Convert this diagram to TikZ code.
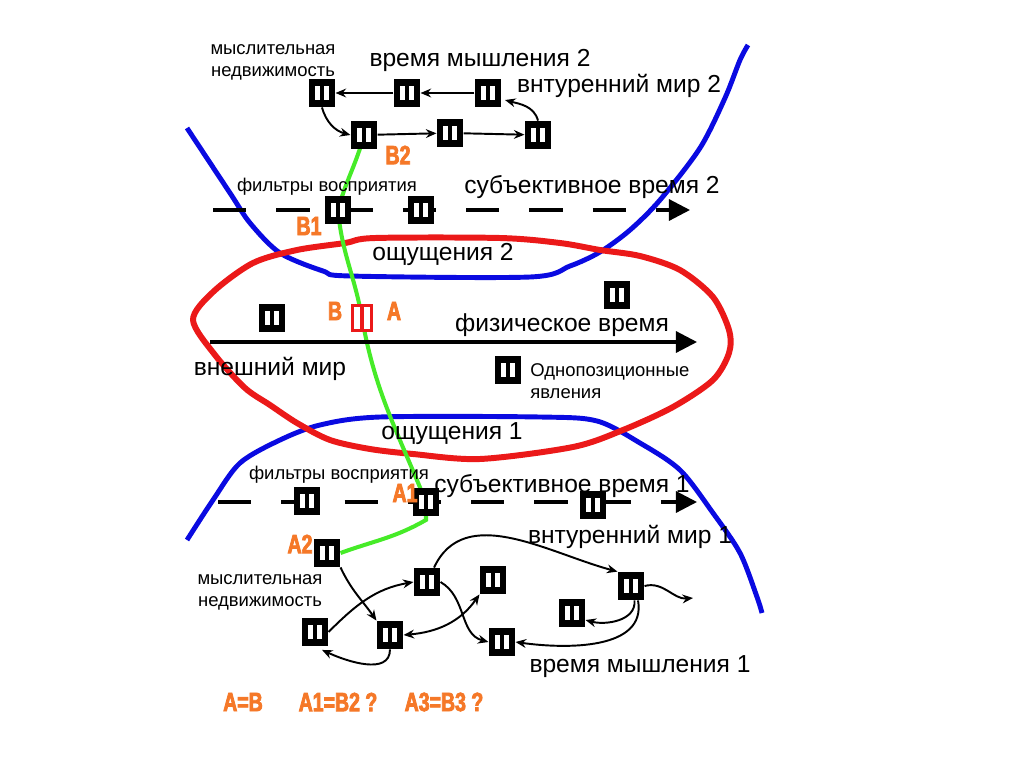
\documentclass[tikz,border=0pt]{standalone}
\usepackage{fontspec}
\setmainfont{Liberation Sans}
\newfontfamily\narrowfont{Liberation Sans Bold}[FakeStretch=0.74,FakeBold=3]
\usepackage{xcolor}
\usetikzlibrary{arrows.meta,backgrounds}

\definecolor{bluewall}{RGB}{10,10,225}
\definecolor{redwall}{RGB}{235,25,25}
\definecolor{greenpath}{RGB}{70,235,40}
\definecolor{orangetag}{RGB}{245,120,40}

\begin{document}
\begin{tikzpicture}[
  x=0.02cm, y=-0.02cm,
  ev/.style={fill=black, minimum width=15pt, minimum height=16pt, inner sep=0pt,
    path picture={
      \fill[white] ([xshift=-3.9pt,yshift=-3.8pt]path picture bounding box.center) rectangle ++(2.7pt,7.6pt);
      \fill[white] ([xshift=1.2pt,yshift=-3.8pt]path picture bounding box.center) rectangle ++(2.7pt,7.6pt);
    }},
  redev/.style={draw=redwall, line width=1.8pt, fill=white, minimum width=11pt,
    minimum height=14.5pt, inner sep=0pt,
    path picture={\draw[redwall, line width=1.8pt] (path picture bounding box.north) -- (path picture bounding box.south);}},
  lbl/.style={font=\fontsize{14}{16}\selectfont, inner sep=0pt},
  sml/.style={font=\fontsize{10.5}{12.5}\selectfont, align=center, inner sep=0pt},
  tag/.style={text=orangetag, font=\narrowfont\fontsize{15}{17}\selectfont, inner sep=0pt},
  conn/.style={-{Stealth[length=6pt,width=5pt]}, line width=1.1pt},
  biconn/.style={{Stealth[length=6pt,width=5pt]}-{Stealth[length=6pt,width=5pt]}, line width=1.1pt},
  axis/.style={line width=1.8pt, -{Triangle[length=12pt,width=12pt]}},
  dashaxis/.style={axis, dash pattern=on 19pt off 17pt},
  bline/.style={draw=bluewall, line width=2.8pt, line join=round},
  rline/.style={draw=redwall, line width=3.4pt, line join=round},
  gline/.style={draw=greenpath, line width=2.3pt}
]
  \useasboundingbox (0,0) rectangle (1024,767);

  % time axes
  \coordinate (s2from) at (213,210);
  \coordinate (s2to) at (690,210);
  \coordinate (phfrom) at (210,342);
  \coordinate (phto) at (697,342);
  \coordinate (s1from) at (218,502);
  \coordinate (s1to) at (697,502);
  \draw[dashaxis] (s2from) -- (s2to);
  \draw[axis] (phfrom) -- (phto);
  \draw[dashaxis] (s1from) -- (s1to);

  % inner world 2
  \node[ev] (m2a) at (322,93) {};
  \node[ev] (m2b) at (407,93) {};
  \node[ev] (m2c) at (488,93) {};
  \node[ev] (m2d) at (364,135) {};
  \node[ev] (m2e) at (450,133) {};
  \node[ev] (m2f) at (538,135) {};
  \draw[conn] (m2c) -- (m2b);
  \draw[conn] (m2b) -- (m2a);
  \draw[conn] (m2a.south) to[out=-75,in=165] (m2d.west);
  \draw[conn] (m2d) -- (m2e);
  \draw[conn] (m2e) -- (m2f);
  \draw[conn] (m2f.north) to[out=105,in=-15] ([xshift=2pt,yshift=-4pt]m2c.east);

  \node[sml] (think2) at (273,62) {мыслительная\\недвижимость};
  \node[lbl] (time2) at (480,60) {время мышления 2};
  \node[lbl] (inner2) at (619,86) {внтуренний мир 2};
  \node[tag] (lb2) at (398,155) {B2};

  % subjective time 2
  \node[ev] (b1) at (338,210) {};
  \node[ev] (s2b) at (421,210) {};
  \node[sml] (filt2) at (327,187) {фильтры восприятия};
  \node[lbl] (subj2) at (592,187) {субъективное время 2};
  \node[tag] (lb1) at (309,226) {B1};

  % outer world
  \node[lbl] (sens2) at (443,254) {ощущения 2};
  \node[ev] (e1) at (272,318) {};
  \node[redev] (ab) at (362,318) {};
  \node[tag] (lbb) at (335,311) {B};
  \node[tag] (lba) at (394,311) {A};
  \node[ev] (e2) at (617,295) {};
  \node[lbl] (phys) at (562,325) {физическое время};
  \node[lbl] (outer) at (270,369) {внешний мир};
  \node[ev] (e3) at (508,370) {};
  \node[sml, align=left, anchor=north west] (onepos) at (530,363) {Однопозиционные\\явления};
  \node[lbl] (sens1) at (452,434) {ощущения 1};

  % subjective time 1
  \node[ev] (s1a) at (307,501) {};
  \node[ev] (a1) at (426,502) {};
  \node[ev] (s1c) at (593,505) {};
  \node[sml] (filt1) at (339,475) {фильтры восприятия};
  \node[lbl] (subj1) at (562,486) {субъективное время 1};
  \node[tag] (la1) at (405,493) {A1};

  % inner world 1
  \node[ev] (a2) at (327,553) {};
  \node[ev] (t1) at (315,632) {};
  \node[ev] (t2) at (390,635) {};
  \node[ev] (t3) at (427,582) {};
  \node[ev] (t4) at (493,580) {};
  \node[ev] (t5) at (502,642) {};
  \node[ev] (t6) at (631,586) {};
  \node[ev] (t7) at (572,613) {};
  \coordinate (t6out) at (693,598);
  \draw[conn] (a2.south east) to[out=-65,in=125] (t2.north west);
  \draw[conn] (t1.east) to[out=45,in=190] (t3.west);
  \draw[conn] (t2.south) to[out=-90,in=-25] ([xshift=4pt,yshift=-2pt]t1.south);
  \draw[conn] (t3.east) to[out=-30,in=165] (t5.west);
  \draw[biconn] (t2.east) to[out=5,in=-125] (t4.south west);
  \draw[conn] ([xshift=4pt]t3.north) to[out=65,in=165] (t6.north west);
  \draw[conn] (t6.east) to[out=15,in=185] (t6out);
  \draw[conn] ([xshift=2pt]t6.south) to[out=-85,in=-15] ([yshift=-4pt]t7.east);
  \draw[conn] ([xshift=4pt]t6.south) to[out=-80,in=-8] (t5.east);

  \node[lbl] (inner1) at (630,537) {внтуренний мир 1};
  \node[tag] (la2) at (300,544) {A2};
  \node[sml] (think1) at (260,592) {мыслительная\\недвижимость};
  \node[lbl] (time1) at (640,667) {время мышления 1};

  \node[tag] (eq1) at (243,702) {A=B};
  \node[tag] (eq2) at (338,702) {A1=B2 ?};
  \node[tag] (eq3) at (444,702) {A3=B3 ?};

  \begin{pgfonlayer}{background}
    \draw[bline] plot[smooth] coordinates {(187,128) (230,193) (250,223) (280,253)
      (323,271) (350,276) (530,277) (570,266) (600,252) (630,230) (660,200)
      (700,148) (725,98) (740,60) (748,45)};
    \draw[bline] plot[smooth] coordinates {(187,540) (213,500) (240,463) (280,440)
      (320,425) (380,417) (540,417) (597,421) (640,443) (680,470) (713,513)
      (740,553) (757,597) (762,613)};
    \draw[rline] plot[smooth cycle] coordinates {(193,320) (213,292) (253,263)
      (297,250) (345,243) (375,238) (500,238) (560,243) (600,250) (640,256)
      (680,270) (713,297) (729,330) (729,353) (713,380) (673,407) (623,430)
      (573,447) (480,459) (413,454) (370,449) (330,440) (297,423) (270,405)
      (245,388) (215,355)};
    \draw[gline] (m2d.center) to[out=-105,in=75] (b1.center)
      to[out=-85,in=100] (ab.center) to[out=-80,in=112] (a1.center)
      -- ([yshift=-2pt]a1.south) to[out=-150,in=20] (a2.east);
  \end{pgfonlayer}
\end{tikzpicture}
\end{document}
